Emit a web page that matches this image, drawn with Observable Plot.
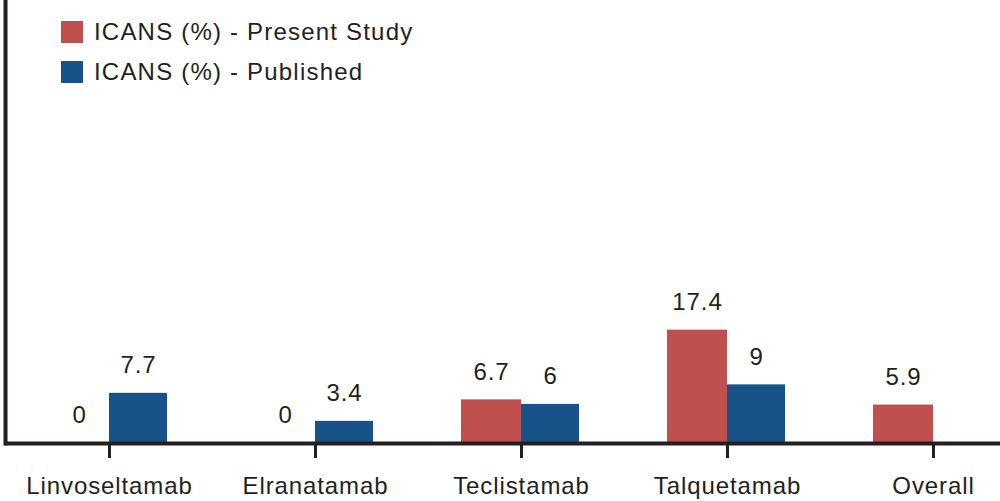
<!DOCTYPE html>
<html>
<head>
<meta charset="utf-8">
<script src="https://cdn.jsdelivr.net/npm/d3@7"></script>
<script src="https://cdn.jsdelivr.net/npm/@observablehq/plot@0.6"></script>
<style>
  html, body { margin: 0; padding: 0; background: #fff; }
  #wrap { position: relative; width: 1000px; height: 501px; font-family: "Liberation Sans", Arial, sans-serif; }
  #legend { position: absolute; left: 61px; top: 21px; color: #231f20; font-size: 24px; letter-spacing: 1.2px; }
  .item { display: flex; align-items: center; height: 22px; margin-bottom: 18px; }
  .sw { width: 22px; height: 22px; margin-right: 11px; }
  svg text { letter-spacing: 0.9px; }
</style>
</head>
<body>
<div id="wrap"></div>
<script>
const categories = ["Linvoseltamab", "Elranatamab", "Teclistamab", "Talquetamab", "Overall"];
const presentStudy = [0, 0, 6.7, 17.4, 5.9];
const published = [7.7, 3.4, 6, 9, null];
const seriesNames = ["ICANS (%) - Present Study", "ICANS (%) - Published"];
const seriesColors = ["#C0504D", "#175389"];

const presentData = categories.map((c, i) => ({category: c, value: presentStudy[i]}));
const publishedData = categories.map((c, i) => ({category: c, value: published[i]})).filter(d => d.value != null);

const ink = "#231f20";
const plot = Plot.plot({
  width: 1000,
  height: 501,
  marginTop: 0,
  marginLeft: 5,
  marginRight: 0,
  marginBottom: 58,
  style: {fontFamily: "'Liberation Sans', Arial, sans-serif", background: "transparent", overflow: "hidden"},
  x: {domain: categories, range: [6, 1036], padding: 0, label: null, axis: null},
  y: {domain: [0, 68], axis: null},
  marks: [
    Plot.barY(presentData, {x: "category", y: "value", fill: seriesColors[0], insetLeft: 43, insetRight: 103}),
    Plot.barY(publishedData, {x: "category", y: "value", fill: seriesColors[1], insetLeft: 103, insetRight: 45}),
    Plot.text(presentData, {x: "category", y: "value", text: d => String(d.value), dx: -30, dy: -28, fontSize: 24, fill: ink}),
    Plot.text(publishedData, {x: "category", y: "value", text: d => String(d.value), dx: 29, dy: -28, fontSize: 24, fill: ink}),
    Plot.ruleY([0], {stroke: ink, strokeWidth: 4}),
    Plot.frame({anchor: "left", stroke: ink, strokeWidth: 4}),
    Plot.axisX({tickSize: 15, tickPadding: 18, strokeWidth: 3, stroke: ink, fill: ink, fontSize: 24, label: null, tickFormat: d => d})
  ]
});
const wrap = document.getElementById("wrap");
wrap.appendChild(plot);
const legend = document.createElement("div");
legend.id = "legend";
seriesNames.forEach((name, i) => {
  const item = document.createElement("div");
  item.className = "item";
  const sw = document.createElement("span");
  sw.className = "sw";
  sw.style.background = seriesColors[i];
  const t = document.createElement("span");
  t.textContent = name;
  item.appendChild(sw);
  item.appendChild(t);
  legend.appendChild(item);
});
wrap.appendChild(legend);
</script>
</body>
</html>
